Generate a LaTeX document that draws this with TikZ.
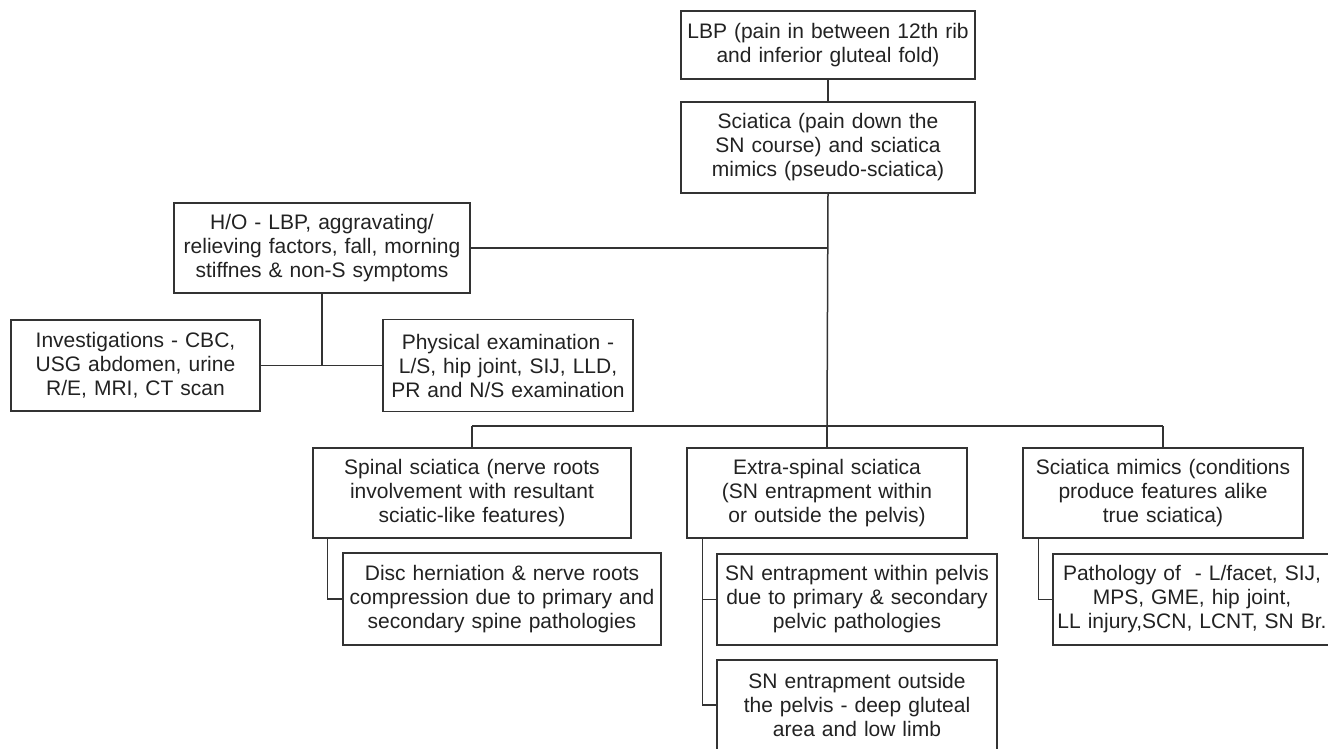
\documentclass[tikz,border=0pt]{standalone}
\usepackage{fontspec}
\setmainfont{Liberation Sans}
\tikzset{
  box/.style={draw=linecol, line width=1.5pt, inner sep=0pt, align=center,
    font=\fontsize{21}{24}\selectfont, text=textcol},
  conn/.style={draw=linecol, line width=1.5pt}
}
\definecolor{linecol}{HTML}{333333}
\definecolor{textcol}{HTML}{222222}
\begin{document}
\begin{tikzpicture}[x=1pt,y=-1pt]
\useasboundingbox (0,0) rectangle (1328,748);
\node[box, text width=294pt, minimum height=68pt] (lbp) at (828,45)
  {LBP (pain in between 12th rib\\and inferior gluteal fold)};
\node[box, text width=294pt, minimum height=91pt] (sci) at (828,147.5)
  {Sciatica (pain down the\\SN course) and sciatica\\mimics (pseudo-sciatica)};
\node[box, text width=296pt, minimum height=90pt] (ho) at (322,248)
  {H/O - LBP, aggravating/\\relieving factors, fall, morning\\stiffnes \& non-S symptoms};
\node[box, text width=249pt, minimum height=91pt] (inv) at (135.5,365.5)
  {Investigations - CBC,\\USG abdomen, urine\\R/E, MRI, CT scan};
\node[box, text width=250pt, minimum height=92pt] (phys) at (508,365.5)
  {Physical examination -\\L/S, hip joint, SIJ, LLD,\\PR and N/S examination};
\node[box, text width=318pt, minimum height=90pt] (spinal) at (472,493)
  {Spinal sciatica (nerve roots\\involvement with resultant\\sciatic-like features)};
\node[box, text width=280pt, minimum height=90pt] (extra) at (827,493)
  {Extra-spinal sciatica\\(SN entrapment within\\or outside the pelvis)};
\node[box, text width=280pt, minimum height=90pt] (mimics) at (1163,493)
  {Sciatica mimics (conditions\\produce features alike\\true sciatica)};
\node[box, text width=318pt, minimum height=92pt] (disc) at (502,599)
  {Disc herniation \& nerve roots\\compression due to primary and\\secondary spine pathologies};
\node[box, text width=280pt, minimum height=91pt] (sn1) at (857,599.5)
  {SN entrapment within pelvis\\due to primary \& secondary\\pelvic pathologies};
\node[box, text width=280pt, minimum height=90pt] (sn2) at (857,705)
  {SN entrapment outside\\the pelvis - deep gluteal\\area and low limb};
\node[box, text width=278pt, minimum height=91pt] (path) at (1192,599.5)
  {Pathology of~~- L/facet, SIJ,\\MPS, GME, hip joint,\\LL injury,SCN, LCNT, SN Br.};
\coordinate (j) at (827,426);
\draw[conn] (lbp.south) -- (sci.south |- lbp.south) -- (sci.north);
\draw[conn] (sci.south) -- (j);
\draw[conn] (ho.east) -- (sci.south |- ho.east);
\draw[conn] (spinal.north |- j) -- (mimics.north |- j);
\draw[conn] (spinal.north |- j) -- (spinal.north);
\draw[conn] (j) -- (extra.north);
\draw[conn] (mimics.north |- j) -- (mimics.north);
\draw[conn] (ho.south) -- (ho.south |- inv.east);
\draw[conn] (inv.east) -- (phys.west |- inv.east);
\draw[conn] ([xshift=15pt]spinal.south west) |- (disc.west);
\draw[conn] ([xshift=16pt]extra.south west) |- (sn1.west);
\draw[conn] ([xshift=16pt]extra.south west) |- (sn2.west);
\draw[conn] ([xshift=16pt]mimics.south west) |- (path.west);
\end{tikzpicture}
\end{document}
